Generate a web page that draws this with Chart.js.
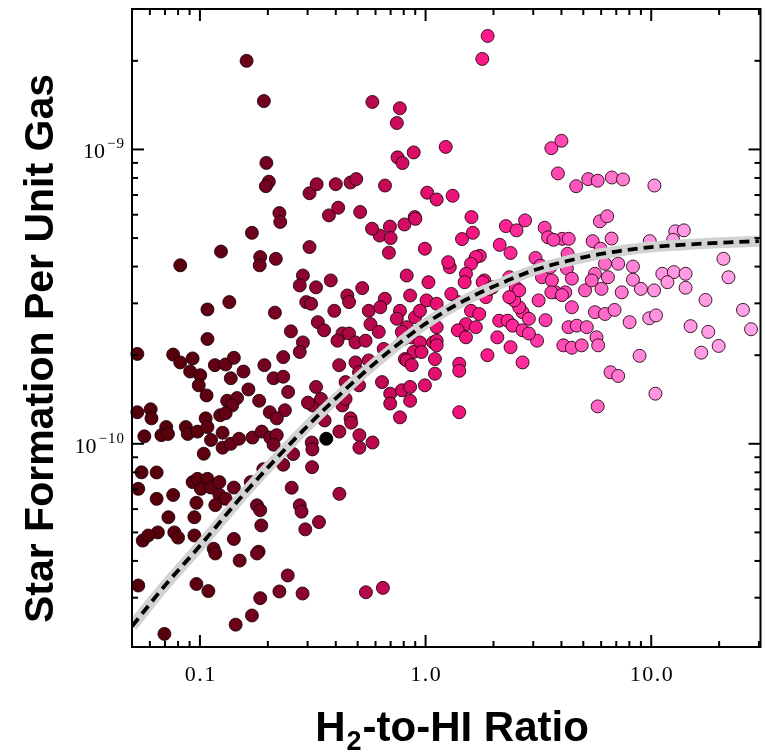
<!DOCTYPE html>
<html><head><meta charset="utf-8">
<script src="https://cdn.jsdelivr.net/npm/chart.js@4.4.1/dist/chart.umd.min.js"></script>
<style>
html,body{margin:0;padding:0;background:#fff;overflow:hidden;}
#wrap{position:relative;width:768px;height:753px;}
</style>
</head><body><div id="wrap"><canvas id="c"></canvas></div>
<script>
// ---- data: H2-to-HI ratio (x) and star formation per unit gas (y) ----
const ratioH2HI = [
0.161,0.192,0.581,0.769,0.746,0.886,1.228,0.751,0.790,0.197,
0.202,0.196,0.306,0.329,0.40,0.465,0.493,0.661,1.017,1.12,
0.225,0.373,0.41,0.513,0.895,
1.884,1.784,1.318,3.61,4.0,3.86,4.65,5.26,5.79,6.69,
7.5,10.33,0.695,0.626,0.70,0.806,0.901,0.688,0.993,1.597,
1.45,1.62,2.27,2.53,2.76,2.13,2.38,1.74,3.37,3.49,
4.03,4.31,3.69,5.92,6.38,5.5,5.96,6.67,9.85,12.78,
13.95,12.5,20.9,4.26,3.07,
0.579,0.306,0.286,0.277,0.327,0.38,0.296,0.311,0.45,0.458,
0.524,0.394,0.56,0.333,0.355,0.428,0.458,0.489,0.542,0.407,
0.57,0.62,0.286,0.277,0.798,0.868,0.944,0.884,0.96,1.08,
0.414,0.489,0.507,0.56,0.81,0.442,0.507,0.327,0.316,0.344,
0.428,0.465,0.442,
22.0,25.5,27.7,17.4,14.94,17.9,19.9,16.66,10.44,8.88,
6.6,7.14,5.79,11.2,12.6,14.2,11.8,14.2,9.8,10.5,
8.02,8.3,8.3,9.0,10.3,7.4,6.24,7.14,5.63,6.43,
6.02,5.09,5.45,5.63,6.24,6.88,4.3,4.68,5.18,4.08,
4.45,4.92,5.72,5.82,4.23,4.45,3.76,4.16,4.45,3.23,
3.57,3.28,3.63,3.17,3.4,3.61,4.02,2.69,2.87,2.6,
2.12,2.31,2.43,2.69,3.12,2.87,2.08,2.38,1.88,2.69,
2.35,2.51,2.47,2.6,2.35,1.85,1.82,1.98,1.67,1.59,
1.51,1.49,1.79,1.92,1.39,1.59,1.73,1.51,1.67,1.39,
1.51,1.3,1.28,1.26,0.825,0.854,1.03,1.01,1.12,0.66,
0.63,0.77,0.746,0.825,0.785,0.898,0.944,1.12,1.12,1.12,
0.652,0.825,0.868,1.1,1.1,0.993,0.641,0.697,0.785,0.854,
0.854,0.697,0.77,1.41,1.41,1.41,
0.227,0.17,0.124,0.0818,0.185,0.184,0.217,0.135,0.108,0.215,
0.108,0.253,0.0528,0.0761,0.0818,0.0928,0.0905,0.1003,0.0988,0.107,
0.1165,0.1299,0.1414,0.137,0.156,0.193,0.164,0.183,0.234,0.212,
0.234,0.246,0.204,0.238,0.219,0.301,0.132,0.146,0.139,0.123,
0.106,0.13,0.0528,0.0605,0.061,0.0709,0.0866,
0.0567,0.0675,0.0722,0.0883,0.0976,0.108,0.112,0.126,0.104,0.126,
0.137,0.149,0.171,0.188,0.205,0.219,0.212,0.259,0.234,0.313,
0.315,0.314,0.255,0.357,0.415,0.468,0.509,0.509,0.582,0.0551,
0.0643,0.0533,0.0643,0.0761,0.0928,0.0976,0.108,0.101,0.112,0.122,
0.122,0.0965,0.117,0.13,0.1414,0.0945,0.0725,0.0651,0.0558,0.059,
0.077,0.08,0.0945,0.0533,0.0965,0.109,0.0696,0.168,0.191,0.1414,
0.115,0.117,0.15,0.179,0.185,0.187,0.182,0.179,0.185,0.17,
0.144,0.225,0.245,0.285,0.277,0.282,0.337,0.293,0.415,0.544,
0.647
];
const sfrPerGas = [
2.0e-9,1.46e-9,1.45e-9,1.38e-9,1.23e-9,9.77e-10,1.02e-9,9.4e-10,8.99e-10,9.0e-10,
7.77e-10,7.5e-10,7.1e-10,7.62e-10,7.62e-10,7.72e-10,7.93e-10,7.54e-10,7.13e-10,6.76e-10,
6.08e-10,5.97e-10,6.34e-10,6.13e-10,5.89e-10,
2.43e-9,2.03e-9,6.96e-10,1.01e-9,1.07e-9,8.29e-10,7.5e-10,7.93e-10,7.83e-10,8.03e-10,
7.91e-10,7.54e-10,5.47e-10,5.1e-10,5.0e-10,5.56e-10,5.81e-10,4.46e-10,4.6e-10,5.89e-10,
4.96e-10,5.21e-10,5.49e-10,5.31e-10,5.74e-10,4.74e-10,4.45e-10,4.35e-10,5.42e-10,5.03e-10,
4.97e-10,4.97e-10,4.93e-10,5.7e-10,5.93e-10,4.88e-10,4.6e-10,4.98e-10,4.88e-10,5.27e-10,
5.31e-10,4.93e-10,4.25e-10,4.42e-10,4.28e-10,
5.38e-10,4.66e-10,3.73e-10,3.45e-10,3.4e-10,3.59e-10,3.03e-10,2.99e-10,3.19e-10,3.03e-10,
3.38e-10,2.83e-10,2.83e-10,2.59e-10,2.43e-10,2.37e-10,2.37e-10,2.21e-10,2.24e-10,2.24e-10,
2.55e-10,2.4e-10,2.21e-10,2.05e-10,2.27e-10,2.3e-10,2.21e-10,2.05e-10,2.05e-10,2.21e-10,
1.85e-10,1.89e-10,1.75e-10,1.92e-10,1.94e-10,1.62e-10,1.58e-10,1.56e-10,1.35e-10,1.42e-10,
1.35e-10,1.22e-10,1.42e-10,
3.68e-10,2.85e-10,2.45e-10,3.08e-10,2.51e-10,2.4e-10,2.15e-10,2.04e-10,1.48e-10,1.99e-10,
1.75e-10,1.70e-10,1.34e-10,3.78e-10,3.83e-10,3.78e-10,3.54e-10,3.39e-10,2.67e-10,2.73e-10,
2.59e-10,4.0e-10,3.61e-10,3.36e-10,3.32e-10,3.27e-10,4.09e-10,4.09e-10,3.78e-10,3.68e-10,
3.36e-10,3.32e-10,3.59e-10,2.8e-10,2.76e-10,2.85e-10,2.49e-10,2.52e-10,2.49e-10,2.16e-10,
2.12e-10,2.16e-10,2.3e-10,2.16e-10,3.94e-10,3.64e-10,3.27e-10,3.27e-10,2.91e-10,4.03e-10,
3.98e-10,3.68e-10,3.59e-10,3.07e-10,2.63e-10,3.27e-10,3.2e-10,2.8e-10,2.66e-10,2.91e-10,
2.62e-10,2.62e-10,2.52e-10,2.43e-10,2.24e-10,2.37e-10,2.3e-10,2.13e-10,2.0e-10,1.89e-10,
3.68e-10,3.4e-10,3.07e-10,3.32e-10,3.15e-10,3.15e-10,3.59e-10,3.4e-10,4.31e-10,4.09e-10,
3.78e-10,3.54e-10,3.54e-10,3.36e-10,3.03e-10,2.83e-10,2.76e-10,2.55e-10,2.49e-10,2.43e-10,
2.3e-10,3.23e-10,3.98e-10,4.14e-10,3.73e-10,3.19e-10,3.54e-10,3.07e-10,2.99e-10,3.11e-10,
2.91e-10,2.83e-10,2.66e-10,2.49e-10,2.4e-10,2.69e-10,2.83e-10,2.49e-10,2.24e-10,2.16e-10,
2.1e-10,1.92e-10,1.85e-10,1.94e-10,1.73e-10,1.58e-10,1.62e-10,1.48e-10,1.52e-10,1.56e-10,
1.4e-10,1.37e-10,1.23e-10,1.28e-10,1.87e-10,1.77e-10,
5.67e-10,5.21e-10,4.5e-10,4.04e-10,4.31e-10,4.04e-10,4.25e-10,3.03e-10,2.86e-10,2.79e-10,
2.27e-10,2.41e-10,2.02e-10,2.01e-10,1.89e-10,1.95e-10,1.76e-10,1.71e-10,1.58e-10,1.46e-10,
1.85e-10,1.86e-10,1.96e-10,1.67e-10,1.76e-10,1.85e-10,1.53e-10,1.4e-10,1.97e-10,1.67e-10,
1.69e-10,1.5e-10,1.28e-10,1.3e-10,1.22e-10,1.38e-10,1.4e-10,1.43e-10,1.35e-10,1.25e-10,
1.22e-10,1.27e-10,1.28e-10,1.31e-10,1.22e-10,1.14e-10,1.14e-10,
1.06e-10,1.07e-10,1.08e-10,1.08e-10,1.1e-10,1.14e-10,1.03e-10,1.09e-10,9.25e-11,9.7e-11,
1.0e-10,1.04e-10,1.05e-10,1.1e-10,1.05e-10,1.07e-10,9.93e-11,9.23e-11,8.49e-11,1.01e-10,
9.57e-11,8.33e-11,7.09e-11,1.2e-10,1.1e-10,1.18e-10,1.07e-10,9.7e-11,1.01e-10,8.0e-11,
7.99e-11,7.03e-11,6.5e-11,6.7e-11,7.41e-11,7.6e-11,7.6e-11,7.03e-11,7.1e-11,7.41e-11,
6.7e-11,6.3e-11,6.19e-11,6.5e-11,7.1e-11,5.63e-11,5.63e-11,5.0e-11,4.69e-11,4.88e-11,
5.0e-11,4.8e-11,4.88e-11,3.3e-11,3.34e-11,3.16e-11,2.26e-11,7.41e-11,8.2e-11,4.75e-11,
4.4e-11,4.24e-11,4.01e-11,6.18e-11,5.95e-11,5.28e-11,4.3e-11,4.24e-11,2.99e-11,2.61e-11,
2.43e-11,3.15e-11,3.57e-11,3.1e-11,6.18e-11,5.88e-11,5.42e-11,5.12e-11,6.76e-11,3.13e-11,
3.24e-11
];
// highlighted (black) galaxy
const highlightRatio = [0.363];
const highlightSfr = [1.04e-10];
// fitted relation
const fitRatio = [0.05,0.07,0.1,0.15,0.2,0.3,0.5,0.7,1.0,1.5,2.0,3.0,5.0,7.0,10,15,20,30];
const fitSfr = [2.4e-11,3.3e-11,4.5e-11,6.5e-11,8.3e-11,1.15e-10,1.67e-10,2.08e-10,2.56e-10,3.08e-10,3.42e-10,3.88e-10,4.3e-10,4.5e-10,4.66e-10,4.76e-10,4.82e-10,4.88e-10];
// axis ticks
const xMajorTicks = [0.1, 1, 10];
const xTickLabels = ['0.1', '1.0', '10.0'];
const xMinorTicks = [0.06,0.07,0.08,0.09,0.2,0.3,0.4,0.5,0.6,0.7,0.8,0.9,2,3,4,5,6,7,8,9,20,30];
const yMajorTicks = [1e-10, 1e-9];
const yTickBases = ['10', '10'];
const yTickExponents = ['\u221210', '\u22129'];
const yMinorTicks = [3e-11,4e-11,5e-11,6e-11,7e-11,8e-11,9e-11,2e-10,3e-10,4e-10,5e-10,6e-10,7e-10,8e-10,9e-10,2e-9,3e-9];
const xTitleParts = ['H', '2', '-to-HI Ratio'];
const yTitle = 'Star Formation Per Unit Gas';

// ---- colour map by ratio ----
const colorStops = [
  [0.05,[84,0,10]],[0.1,[92,0,14]],[0.2,[116,2,32]],[0.4,[160,6,58]],
  [0.7,[200,10,88]],[1.0,[226,14,108]],[2.0,[255,26,140]],[4.0,[255,72,180]],
  [7.0,[255,118,208]],[10,[255,148,225]],[30,[255,166,232]]
];
function colorFor(v){
  const lv = Math.log10(v);
  for (let i = 0; i < colorStops.length - 1; i++){
    const a = colorStops[i], b = colorStops[i+1];
    const la = Math.log10(a[0]), lb = Math.log10(b[0]);
    if (lv <= lb || i === colorStops.length - 2){
      const t = Math.max(0, Math.min(1, (lv - la) / (lb - la)));
      const c = a[1].map((q, k) => Math.round(q + (b[1][k] - q) * t));
      return `rgb(${c[0]},${c[1]},${c[2]})`;
    }
  }
}

const points = ratioH2HI.map((x, i) => ({x, y: sfrPerGas[i]}));
const pointColors = ratioH2HI.map(colorFor);
const highlight = highlightRatio.map((x, i) => ({x, y: highlightSfr[i]}));
const fitPts = fitRatio.map((x, i) => ({x, y: fitSfr[i]}));

const framePlugin = {
  id: 'framePlugin',
  afterDraw(chart){
    const {ctx, chartArea: a, scales: {x, y}} = chart;
    ctx.save();
    ctx.strokeStyle = '#000';
    ctx.lineWidth = 2;
    ctx.strokeRect(a.left, a.top, a.right - a.left, a.bottom - a.top);
    const seg = (x1, y1, x2, y2) => { ctx.beginPath(); ctx.moveTo(x1, y1); ctx.lineTo(x2, y2); ctx.stroke(); };
    xMajorTicks.forEach(v => { const p = x.getPixelForValue(v); seg(p, a.bottom, p, a.bottom - 12); seg(p, a.top, p, a.top + 12); });
    xMinorTicks.forEach(v => { const p = x.getPixelForValue(v); seg(p, a.bottom, p, a.bottom - 6); seg(p, a.top, p, a.top + 6); });
    yMajorTicks.forEach(v => { const p = y.getPixelForValue(v); seg(a.left, p, a.left + 12, p); seg(a.right, p, a.right - 12, p); });
    yMinorTicks.forEach(v => { const p = y.getPixelForValue(v); seg(a.left, p, a.left + 6, p); seg(a.right, p, a.right - 6, p); });

    // tick labels
    ctx.fillStyle = '#000';
    ctx.font = '22px "Liberation Serif", serif';
    ctx.textAlign = 'center';
    ctx.textBaseline = 'alphabetic';
    ctx.letterSpacing = '1.5px';
    xMajorTicks.forEach((v, i) => { ctx.fillText(xTickLabels[i], x.getPixelForValue(v) + 0.75, a.bottom + 34); });
    yMajorTicks.forEach((v, i) => {
      const p = y.getPixelForValue(v);
      ctx.font = '15px "Liberation Serif", serif';
      ctx.letterSpacing = '1px';
      ctx.textAlign = 'right';
      const expW = ctx.measureText(yTickExponents[i]).width;
      ctx.fillText(yTickExponents[i], a.left - 7, p - 1);
      ctx.font = '22px "Liberation Serif", serif';
      ctx.letterSpacing = '0px';
      ctx.fillText(yTickBases[i], a.left - 9 - expW, p + 9);
    });
    ctx.letterSpacing = '0px';

    // x title with subscript
    ctx.textAlign = 'left';
    const big = 'bold 42px "Liberation Sans", Arial, sans-serif';
    const small = 'bold 27px "Liberation Sans", Arial, sans-serif';
    ctx.font = big; const w0 = ctx.measureText(xTitleParts[0]).width;
    ctx.font = small; const w1 = ctx.measureText(xTitleParts[1]).width;
    ctx.font = big; const w2 = ctx.measureText(xTitleParts[2]).width;
    const total = w0 + w1 + w2 + 2;
    let sx = 452 - total / 2;
    const base = 741;
    ctx.font = big; ctx.fillText(xTitleParts[0], sx, base); sx += w0 + 1;
    ctx.font = small; ctx.fillText(xTitleParts[1], sx, base + 9); sx += w1 + 1;
    ctx.font = big; ctx.fillText(xTitleParts[2], sx, base);

    // y title
    ctx.save();
    ctx.translate(53, 348.5);
    ctx.rotate(-Math.PI / 2);
    ctx.font = 'bold 41px "Liberation Sans", Arial, sans-serif';
    ctx.textAlign = 'center';
    ctx.fillText(yTitle, 0, 0);
    ctx.restore();
    ctx.restore();
  }
};

new Chart(document.getElementById('c'), {
  type: 'scatter',
  data: {
    datasets: [
      { data: fitPts, showLine: true, borderColor: '#000', borderWidth: 3.8, borderDash: [10, 6],
        pointRadius: 0, cubicInterpolationMode: 'monotone' },
      { data: fitPts, showLine: true, borderColor: '#d2d2d2', borderWidth: 11,
        pointRadius: 0, cubicInterpolationMode: 'monotone' },
      { data: highlight, pointRadius: 6.5, backgroundColor: '#000', borderColor: '#000', borderWidth: 1, clip: false },
      { data: points, pointRadius: 6.5, backgroundColor: pointColors, borderColor: 'rgba(25,0,10,0.85)', borderWidth: 1, clip: false }
    ]
  },
  options: {
    responsive: true,
    maintainAspectRatio: false,
    animation: false,
    events: [],
    layout: { padding: { left: 132, top: 9, right: 1, bottom: 106 } },
    plugins: { legend: { display: false }, tooltip: { enabled: false } },
    scales: {
      x: { type: 'logarithmic', min: 0.05, max: 30.5, display: false },
      y: { type: 'logarithmic', min: 2.04e-11, max: 3e-9, display: false }
    }
  },
  plugins: [framePlugin]
});
</script>
</body></html>
